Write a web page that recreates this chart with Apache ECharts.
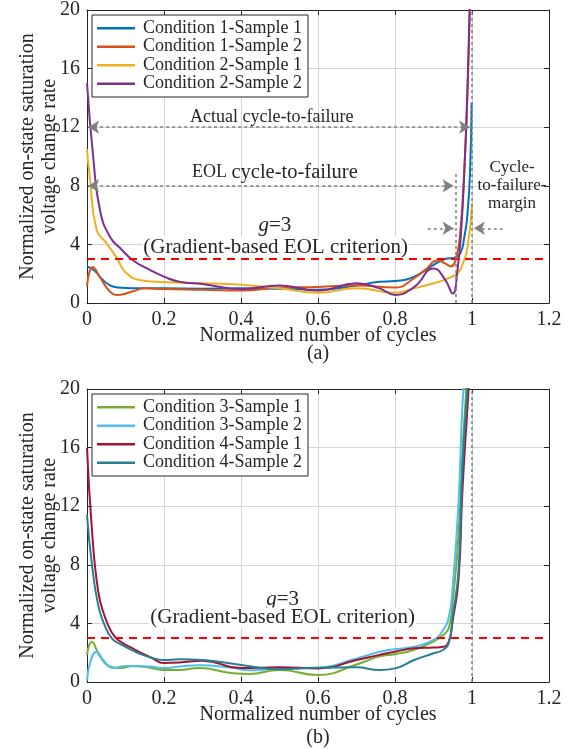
<!DOCTYPE html>
<html>
<head>
<meta charset="utf-8">
<script src="https://cdn.jsdelivr.net/npm/echarts@6/dist/echarts.min.js"></script>
<style>
  html, body { margin: 0; padding: 0; background: #fff; }
  #chart { width: 580px; height: 749px; }
</style>
</head>
<body>
<div id="chart"></div>
<script>
// ---- data ----
// (a) Condition 1 / Condition 2
const c1s1X = [0, 0.02, 0.04, 0.06, 0.08, 0.12, 0.2, 0.3, 0.4, 0.5, 0.6, 0.7, 0.76, 0.8, 0.85, 0.9, 0.93, 0.955, 0.97, 0.98, 0.988, 0.995, 0.999];
const c1s1Y = [2.5, 2.2, 1.6, 1.2, 1.05, 1.0, 1.0, 0.98, 1.0, 0.98, 0.9, 1.2, 1.45, 1.5, 1.8, 2.6, 3.0, 3.1, 3.4, 4.5, 6.0, 9.0, 13.7];

const c1s2X = [0, 0.015, 0.035, 0.06, 0.08, 0.12, 0.15, 0.2, 0.3, 0.4, 0.5, 0.6, 0.7, 0.8, 0.85, 0.88, 0.91, 0.93, 0.945, 0.96, 0.97, 0.98, 0.988, 0.995];
const c1s2Y = [1.15, 2.45, 1.7, 0.77, 0.55, 0.8, 1.0, 0.95, 0.9, 0.85, 1.05, 1.1, 1.2, 1.05, 1.7, 2.3, 2.9, 2.7, 2.5, 3.2, 5.0, 9.0, 14, 21];

const c2s1X = [0, 0.008, 0.025, 0.05, 0.077, 0.1, 0.14, 0.19, 0.3, 0.4, 0.5, 0.6, 0.7, 0.8, 0.85, 0.9, 0.93, 0.96, 0.975, 0.99, 1.0];
const c2s1Y = [10.5, 8.4, 5.0, 4.1, 3.1, 2.1, 1.55, 1.43, 1.35, 1.25, 1.0, 0.7, 1.0, 0.7, 1.0, 1.35, 1.6, 2.0, 2.6, 4.1, 6.8];

const c2s2X = [0, 0.016, 0.034, 0.06, 0.086, 0.12, 0.164, 0.2, 0.24, 0.3, 0.4, 0.5, 0.6, 0.7, 0.76, 0.8, 0.85, 0.9, 0.93, 0.95, 0.962, 0.972, 0.98, 0.988, 0.995];
const c2s2Y = [15, 10, 6.3, 4.5, 3.75, 2.9, 2.25, 1.8, 1.45, 1.3, 0.95, 1.2, 0.85, 1.35, 1.0, 0.55, 1.1, 2.35, 1.6, 0.65, 2.2, 5.0, 9.0, 14.5, 21];

// (b) Condition 3 / Condition 4
const c3s1X = [0, 0.012, 0.034, 0.06, 0.086, 0.12, 0.164, 0.2, 0.24, 0.29, 0.38, 0.42, 0.5, 0.6, 0.7, 0.76, 0.8, 0.85, 0.9, 0.925, 0.94, 0.95, 0.965, 0.975, 0.985, 0.992];
const c3s1Y = [1.84, 2.75, 1.73, 1.05, 0.95, 1.1, 0.98, 0.82, 0.82, 0.95, 0.6, 0.55, 0.82, 0.48, 1.2, 1.75, 1.9, 2.2, 2.76, 3.2, 3.7, 5.5, 10, 15.6, 20, 24];

const c3s2X = [0, 0.01, 0.025, 0.042, 0.068, 0.1, 0.164, 0.2, 0.24, 0.29, 0.38, 0.42, 0.5, 0.6, 0.7, 0.76, 0.8, 0.85, 0.9, 0.925, 0.94, 0.95, 0.965, 0.975, 0.984, 0.99];
const c3s2Y = [0.1, 1.5, 2.07, 1.5, 0.95, 1.1, 1.05, 0.95, 1.05, 1.15, 0.95, 0.8, 0.93, 0.98, 1.6, 2.07, 2.23, 2.4, 2.87, 3.55, 4.45, 6.5, 12.2, 18.8, 22, 26];

const c4s1X = [0, 0.012, 0.029, 0.047, 0.064, 0.081, 0.125, 0.168, 0.2, 0.24, 0.3, 0.4, 0.5, 0.6, 0.7, 0.76, 0.8, 0.85, 0.9, 0.925, 0.94, 0.95, 0.965, 0.975, 0.99, 0.998];
const c4s1Y = [16, 10.7, 6.2, 4.4, 3.4, 2.87, 2.2, 1.65, 1.3, 1.33, 1.45, 0.95, 1.0, 0.93, 1.5, 1.85, 2.07, 2.3, 2.35, 2.4, 2.8, 4.2, 7, 13, 19.5, 23];

const c4s2X = [0, 0.012, 0.029, 0.047, 0.064, 0.081, 0.125, 0.168, 0.2, 0.24, 0.3, 0.4, 0.5, 0.6, 0.7, 0.76, 0.8, 0.85, 0.9, 0.925, 0.94, 0.95, 0.965, 0.975, 0.99, 0.998];
const c4s2Y = [11.4, 8.2, 5.25, 3.8, 3.0, 2.66, 2.07, 1.65, 1.5, 1.55, 1.5, 1.16, 0.87, 0.98, 1.0, 0.82, 0.93, 1.5, 1.96, 2.2, 2.7, 4.5, 7.6, 14.5, 21, 25];

const namesA = ['Condition 1-Sample 1', 'Condition 1-Sample 2', 'Condition 2-Sample 1', 'Condition 2-Sample 2'];
const namesB = ['Condition 3-Sample 1', 'Condition 3-Sample 2', 'Condition 4-Sample 1', 'Condition 4-Sample 2'];

// annotation values (data units)
const eolThreshold = 3;          // g = 3
const actualFailure = 1.0;       // actual cycle-to-failure
const eolFailure = 0.957;        // EOL cycle-to-failure
const actualArrowY = 12;
const eolArrowY = 8;
const marginArrowY = 5.1;

const FONT = 'Liberation Serif';
const INK = '#262626';
const GREY = '#808080';

const serif = (size, extra) => Object.assign({ fontFamily: FONT, fontSize: size, color: INK }, extra || {});
const tok = (s) => '{t|' + s + '}';

const zip = (xs, ys) => xs.map((x, i) => [x, ys[i]]);

function lineSeries(name, xs, ys, color, idx) {
  return {
    name: name,
    type: 'line',
    xAxisIndex: idx * 2,
    yAxisIndex: idx * 2,
    data: zip(xs, ys),
    symbol: 'none',
    showSymbol: false,
    smooth: 0.5,
    clip: true,
    lineStyle: { width: 2, color: color },
    itemStyle: { color: color },
    animation: false
  };
}

function xAxes(gi) {
  return [{
    gridIndex: gi, type: 'value', min: 0, max: 1.2, interval: 0.2,
    axisLine: { onZero: false, lineStyle: { color: INK } },
    axisTick: { inside: true, length: 5, lineStyle: { color: INK } },
    axisLabel: {
      color: INK, fontSize: 20, fontFamily: FONT, margin: 7,
      showMinLabel: true, showMaxLabel: true,
      formatter: v => tok(String(parseFloat(v.toFixed(2)))),
      rich: { t: serif(20) }
    },
    splitLine: { show: true, lineStyle: { color: '#d4d4d4' } },
    name: tok('Normalized number of cycles'), nameLocation: 'middle', nameGap: 23,
    nameMoveOverlap: false,
    nameTextStyle: { color: INK, fontSize: 20, fontFamily: FONT, rich: { t: serif(20) } }
  }, {
    gridIndex: gi, type: 'value', min: 0, max: 1.2, interval: 0.2, position: 'top',
    axisLine: { onZero: false, lineStyle: { color: INK } },
    axisTick: { inside: true, length: 5, lineStyle: { color: INK } },
    axisLabel: { show: false }, splitLine: { show: false }
  }];
}

function yAxes(gi) {
  return [{
    gridIndex: gi, type: 'value', min: 0, max: 20, interval: 4,
    axisLine: { onZero: false, lineStyle: { color: INK } },
    axisTick: { inside: true, length: 5, lineStyle: { color: INK } },
    axisLabel: {
      color: INK, fontSize: 20, fontFamily: FONT, margin: 7,
      formatter: v => tok(String(v)), rich: { t: serif(20) }
    },
    splitLine: { show: true, lineStyle: { color: '#d4d4d4' } },
    name: tok('Normalized on-state saturation') + '\n' + tok('voltage change rate'),
    nameLocation: 'middle', nameGap: 26, nameRotate: 90, nameMoveOverlap: false,
    nameTextStyle: { color: INK, fontSize: 20, fontFamily: FONT, lineHeight: 22, rich: { t: serif(20, { lineHeight: 22 }) } }
  }, {
    gridIndex: gi, type: 'value', min: 0, max: 20, interval: 4, position: 'right',
    axisLine: { onZero: false, lineStyle: { color: INK } },
    axisTick: { inside: true, length: 5, lineStyle: { color: INK } },
    axisLabel: { show: false }, splitLine: { show: false }
  }];
}

const arrowLine = { color: GREY, type: [3, 3], width: 1.5 };
const redLine = { color: '#ff0000', type: [8, 6], width: 2 };

function textPoint(coord, text, size, extra) {
  return {
    coord: coord, symbol: 'rect', symbolSize: 0,
    label: Object.assign({
      show: true, position: 'inside', formatter: text,
      color: INK, fontSize: size, fontFamily: FONT,
      rich: {
        t: serif(size, extra && extra.lineHeight ? { lineHeight: extra.lineHeight } : {}),
        i: serif(size, { fontStyle: 'italic' }),
        s: serif(18)
      }
    }, extra || {})
  };
}

// annotation series for (a)
const annotA = {
  name: 'annotA', type: 'line', xAxisIndex: 0, yAxisIndex: 0, data: [],
  silent: true, animation: false, z: 3,
  markLine: {
    silent: true, animation: false, symbolSize: [10, 11],
    label: { show: false },
    emphasis: { disabled: true },
    itemStyle: { color: GREY },
    data: [
      [{ coord: [0, eolThreshold], symbol: 'none', lineStyle: redLine }, { coord: [1.2, eolThreshold], symbol: 'none' }],
      [{ coord: [actualFailure, 0], symbol: 'none', lineStyle: arrowLine }, { coord: [actualFailure, 20], symbol: 'none' }],
      [{ coord: [eolFailure, 0], symbol: 'none', lineStyle: arrowLine }, { coord: [eolFailure, 8.9], symbol: 'none' }],
      [{ coord: [0.003, actualArrowY], symbol: 'arrow', lineStyle: arrowLine }, { coord: [0.995, actualArrowY], symbol: 'arrow' }],
      [{ coord: [0.003, eolArrowY], symbol: 'arrow', lineStyle: arrowLine }, { coord: [0.952, eolArrowY], symbol: 'arrow' }],
      [{ coord: [0.885, marginArrowY], symbol: 'none', lineStyle: arrowLine }, { coord: [0.952, marginArrowY], symbol: 'arrow' }],
      [{ coord: [1.08, marginArrowY], symbol: 'none', lineStyle: arrowLine }, { coord: [1.005, marginArrowY], symbol: 'arrow' }]
    ]
  },
  markPoint: {
    silent: true, animation: false,
    data: [
      textPoint([0.48, 12.7], tok('Actual cycle-to-failure'), 18),
      textPoint([0.488, 8.9], '{s|EOL }{t|cycle-to-failure}', 20.5),
      textPoint([1.104, 8.05], tok('Cycle-') + '\n' + tok('to-failure-') + '\n' + tok('margin'), 17, { lineHeight: 18 }),
      textPoint([0.488, 5.3], '{i|g}{t|=3}', 21),
      textPoint([0.49, 3.82], tok('(Gradient-based EOL criterion)'), 21, { backgroundColor: '#fff', padding: [0, 1] })
    ]
  }
};

const annotB = {
  name: 'annotB', type: 'line', xAxisIndex: 2, yAxisIndex: 2, data: [],
  silent: true, animation: false, z: 3,
  markLine: {
    silent: true, animation: false, label: { show: false },
    emphasis: { disabled: true },
    data: [
      [{ coord: [0, eolThreshold], symbol: 'none', lineStyle: redLine }, { coord: [1.2, eolThreshold], symbol: 'none' }],
      [{ coord: [actualFailure, 0], symbol: 'none', lineStyle: arrowLine }, { coord: [actualFailure, 20], symbol: 'none' }]
    ]
  },
  markPoint: {
    silent: true, animation: false,
    data: [
      textPoint([0.508, 5.6], '{i|g}{t|=3}', 21),
      textPoint([0.508, 4.37], tok('(Gradient-based EOL criterion)'), 21, { backgroundColor: '#fff', padding: [0, 1] })
    ]
  }
};

const colorsA = ['#0072BD', '#D95319', '#EDB120', '#7E2F8E'];
const colorsB = ['#77AC30', '#4DBEEE', '#A2142F', '#267F94'];

const legendBase = {
  orient: 'vertical', left: 92, icon: 'rect', itemWidth: 38, itemHeight: 2.5, itemGap: 0,
  padding: [4, 6, 4, 5], borderColor: INK, borderWidth: 1, backgroundColor: '#fff',
  formatter: name => tok(name),
  textStyle: { color: INK, fontSize: 18, fontFamily: FONT, lineHeight: 18.5, padding: [0, 0, 0, 3],
    rich: { t: serif(18, { lineHeight: 18.5 }) } },
  selectedMode: false, z: 10
};

const chart = echarts.init(document.getElementById('chart'), null, { renderer: 'canvas' });
chart.setOption({
  animation: false,
  backgroundColor: '#fff',
  textStyle: { fontFamily: FONT },
  grid: [
    { left: 87, right: 31, top: 10, bottom: 446, containLabel: false, outerBoundsMode: 'none' },
    { left: 87, right: 31, top: 389, bottom: 67, containLabel: false, outerBoundsMode: 'none' }
  ],
  xAxis: [...xAxes(0), ...xAxes(1)],
  yAxis: [...yAxes(0), ...yAxes(1)],
  legend: [
    Object.assign({}, legendBase, { top: 15, data: namesA }),
    Object.assign({}, legendBase, { top: 394, data: namesB })
  ],
  graphic: [
    { type: 'text', x: 318, y: 354, style: { text: '(a)', fill: INK, font: '20px "Liberation Serif"', textAlign: 'center', textVerticalAlign: 'middle' } },
    { type: 'text', x: 318, y: 738, style: { text: '(b)', fill: INK, font: '20px "Liberation Serif"', textAlign: 'center', textVerticalAlign: 'middle' } }
  ],
  series: [
    lineSeries(namesA[0], c1s1X, c1s1Y, colorsA[0], 0),
    lineSeries(namesA[1], c1s2X, c1s2Y, colorsA[1], 0),
    lineSeries(namesA[2], c2s1X, c2s1Y, colorsA[2], 0),
    lineSeries(namesA[3], c2s2X, c2s2Y, colorsA[3], 0),
    annotA,
    lineSeries(namesB[0], c3s1X, c3s1Y, colorsB[0], 1),
    lineSeries(namesB[1], c3s2X, c3s2Y, colorsB[1], 1),
    lineSeries(namesB[2], c4s1X, c4s1Y, colorsB[2], 1),
    lineSeries(namesB[3], c4s2X, c4s2Y, colorsB[3], 1),
    annotB
  ]
});
</script>
</body>
</html>
